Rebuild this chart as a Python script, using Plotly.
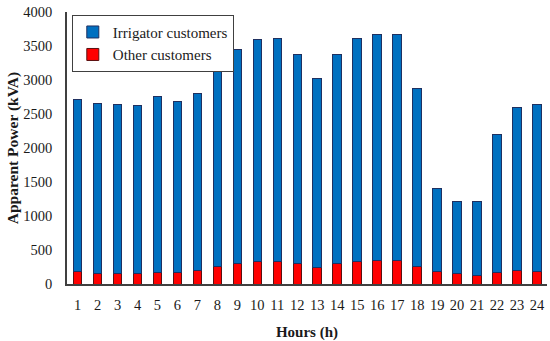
import plotly.graph_objects as go

hours = list(range(1, 25))
hour_labels = [str(h) for h in hours]
total_power = [2720, 2660, 2640, 2630, 2760, 2690, 2800, 3135, 3455, 3592, 3612,
               3372, 3018, 3380, 3615, 3675, 3668, 2872, 1398, 1218, 1208, 2198, 2600, 2640]
other_customers = [178, 160, 155, 155, 165, 163, 195, 258, 302, 332, 336,
                   298, 250, 298, 336, 340, 345, 254, 180, 152, 132, 170, 200, 185]
irrigator_customers = [t - o for t, o in zip(total_power, other_customers)]

font_family = "Liberation Serif, DejaVu Serif, serif"

fig = go.Figure()
fig.add_trace(go.Bar(
    x=hours, y=other_customers, name="Other customers",
    marker=dict(color="#FF0000", line=dict(color="#5a1010", width=1)),
    width=0.43,
))
fig.add_trace(go.Bar(
    x=hours, y=irrigator_customers, name="Irrigator customers",
    marker=dict(color="#0070C0", line=dict(color="#1F3060", width=1)),
    width=0.43,
))

fig.update_layout(
    barmode="stack",
    width=550, height=341,
    margin=dict(l=67, r=3, t=12, b=57),
    plot_bgcolor="white", paper_bgcolor="white",
    font=dict(family=font_family, size=14.5, color="#1a1a1a"),
    showlegend=True,
    legend=dict(
        x=0.01, y=0.99, xanchor="left", yanchor="top",
        traceorder="reversed",
        bordercolor="#404040", borderwidth=1,
        bgcolor="white",
        font=dict(family=font_family, size=15, color="#1a1a1a"),
        itemwidth=30,
        tracegroupgap=0,
    ),
    xaxis=dict(
        range=[0.47, 24.5],
        tickmode="array", tickvals=hours, ticktext=hour_labels,
        showline=True, linecolor="#404040", linewidth=1.5,
        showgrid=False, ticks="outside", ticklen=7, tickcolor="white",
        zeroline=False, automargin=False,
        tickfont=dict(size=14.5),
        title=dict(text="<b>Hours (h)</b>", font=dict(size=15), standoff=14),
    ),
    yaxis=dict(
        range=[0, 4000], dtick=500,
        showline=True, linecolor="#404040", linewidth=1.5,
        showgrid=False, ticks="outside", ticklen=10, tickcolor="white",
        zeroline=False, automargin=False,
        tickfont=dict(size=14.5),
        title=dict(text="<b>Apparent Power (kVA)</b>", font=dict(size=15.5), standoff=1),
    ),
)

fig.write_html("out.html", config={"displayModeBar": False},
               post_script="document.body.style.margin='0';")
